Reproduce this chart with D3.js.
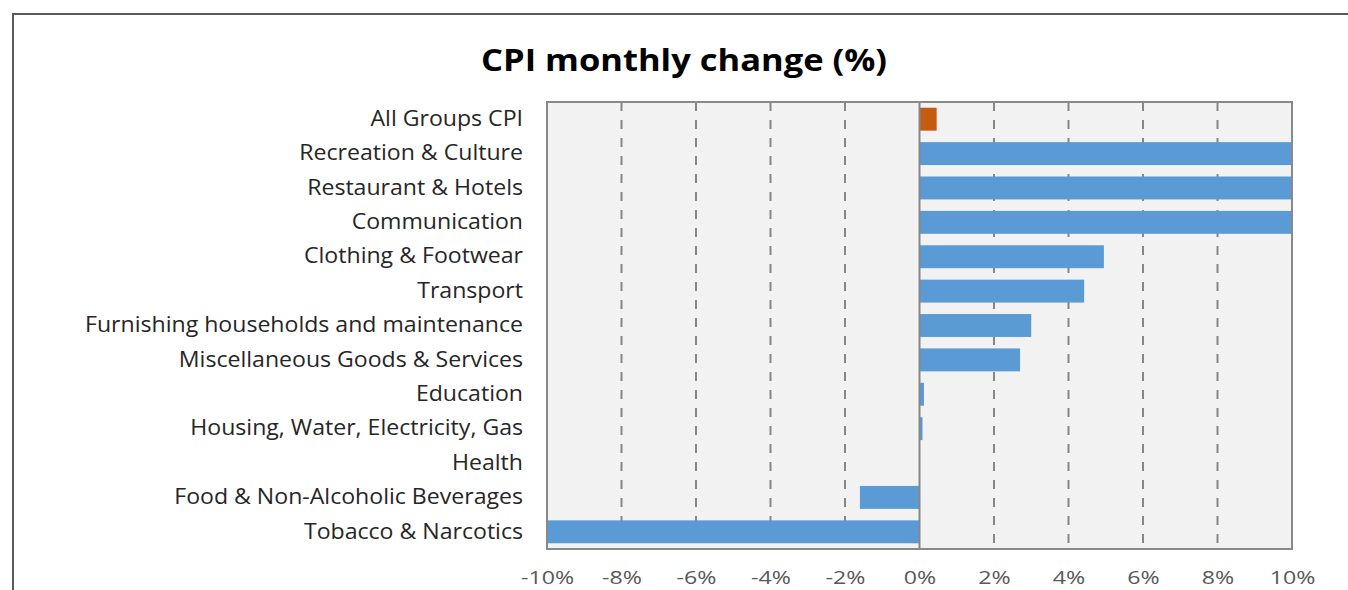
<!DOCTYPE html>
<html>
<head>
<meta charset="utf-8">
<script src="https://cdn.jsdelivr.net/npm/d3@7"></script>
<style>
  html, body { margin: 0; padding: 0; background: #fff; }
  svg { display: block; }
</style>
</head>
<body>
<svg id="chart" width="1348" height="590"></svg>
<script>
// CPI monthly change by expenditure group (%)
const categories = [
  "All Groups CPI",
  "Recreation & Culture",
  "Restaurant & Hotels",
  "Communication",
  "Clothing & Footwear",
  "Transport",
  "Furnishing households and maintenance",
  "Miscellaneous Goods & Services",
  "Education",
  "Housing, Water, Electricity, Gas",
  "Health",
  "Food & Non-Alcoholic Beverages",
  "Tobacco & Narcotics"
];
const values = [0.46, 12.0, 11.5, 11.0, 4.95, 4.42, 3.0, 2.7, 0.12, 0.08, 0.0, -1.6, -12.0];
const tickValues = [-10, -8, -6, -4, -2, 0, 2, 4, 6, 8, 10];
const titleText = "CPI monthly change (%)";

const svg = d3.select("#chart");
const font = "'Open Sans', sans-serif";
// the chart's lettering is set wide; stretch glyphs horizontally
const labelStretch = 1.10, tickStretch = 1.22, titleStretch = 1.17;

// outer chart frame (continues past the visible area)
svg.append("rect")
  .attr("x", 13).attr("y", 14)
  .attr("width", 1500).attr("height", 800)
  .attr("fill", "#fff").attr("stroke", "#595959").attr("stroke-width", 2);

const plot = { left: 547, right: 1292, top: 102, bottom: 549 };

const x = d3.scaleLinear().domain([-10, 10]).range([plot.left, plot.right]);
const y = d3.scaleBand().domain(categories)
  .range([plot.top, plot.bottom]).paddingInner(1 / 3).paddingOuter(1 / 6);

// plot background
svg.append("rect")
  .attr("x", plot.left).attr("y", plot.top)
  .attr("width", plot.right - plot.left).attr("height", plot.bottom - plot.top)
  .attr("fill", "#f2f2f2");

// dashed vertical gridlines
svg.append("g").selectAll("line")
  .data(tickValues.filter(d => d !== 0 && Math.abs(d) !== 10))
  .join("line")
  .attr("x1", d => x(d)).attr("x2", d => x(d))
  .attr("y1", plot.top).attr("y2", plot.bottom)
  .attr("stroke", "#868686").attr("stroke-width", 2)
  .attr("stroke-dasharray", "9,9");

// clip bars to the plotting region
svg.append("clipPath").attr("id", "plotClip")
  .append("rect")
  .attr("x", plot.left).attr("y", plot.top)
  .attr("width", plot.right - plot.left).attr("height", plot.bottom - plot.top);

svg.append("g").attr("clip-path", "url(#plotClip)")
  .selectAll("rect")
  .data(categories.map((c, i) => ({ c, v: values[i] })))
  .join("rect")
  .attr("x", d => x(Math.min(0, d.v)))
  .attr("y", d => y(d.c))
  .attr("width", d => Math.abs(x(d.v) - x(0)))
  .attr("height", y.bandwidth())
  .attr("fill", (d, i) => i === 0 ? "#c55a11" : "#5b9bd5");

// zero line
svg.append("line")
  .attr("x1", x(0)).attr("x2", x(0))
  .attr("y1", plot.top).attr("y2", plot.bottom)
  .attr("stroke", "#868686").attr("stroke-width", 2);

// plot border
svg.append("rect")
  .attr("x", plot.left).attr("y", plot.top)
  .attr("width", plot.right - plot.left).attr("height", plot.bottom - plot.top)
  .attr("fill", "none").attr("stroke", "#898989").attr("stroke-width", 2);

// category axis labels
const yAxis = svg.append("g")
  .attr("transform", `translate(${plot.left},0)`)
  .call(d3.axisLeft(y).tickSize(0).tickPadding(24));
yAxis.select(".domain").remove();
yAxis.selectAll("text")
  .attr("x", -24 / labelStretch)
  .attr("transform", `scale(${labelStretch},1)`)
  .attr("font-family", font).attr("font-size", 21).attr("fill", "#262626");

// value axis labels
const xAxis = svg.append("g")
  .attr("transform", `translate(0,${plot.bottom})`)
  .call(d3.axisBottom(x).tickValues(tickValues).tickSize(0)
    .tickFormat(d => d + "%"));
xAxis.select(".domain").remove();
xAxis.selectAll("text")
  .attr("y", 35).attr("dy", null)
  .attr("transform", `scale(${tickStretch},1)`)
  .attr("font-family", font).attr("font-size", 19).attr("fill", "#595959");

// title
svg.append("g")
  .attr("transform", `translate(684,71) scale(${titleStretch},1)`)
  .append("text")
  .attr("text-anchor", "middle")
  .attr("font-family", font).attr("font-weight", "bold").attr("font-size", 29.5)
  .attr("fill", "#000")
  .text(titleText);
</script>
</body>
</html>
